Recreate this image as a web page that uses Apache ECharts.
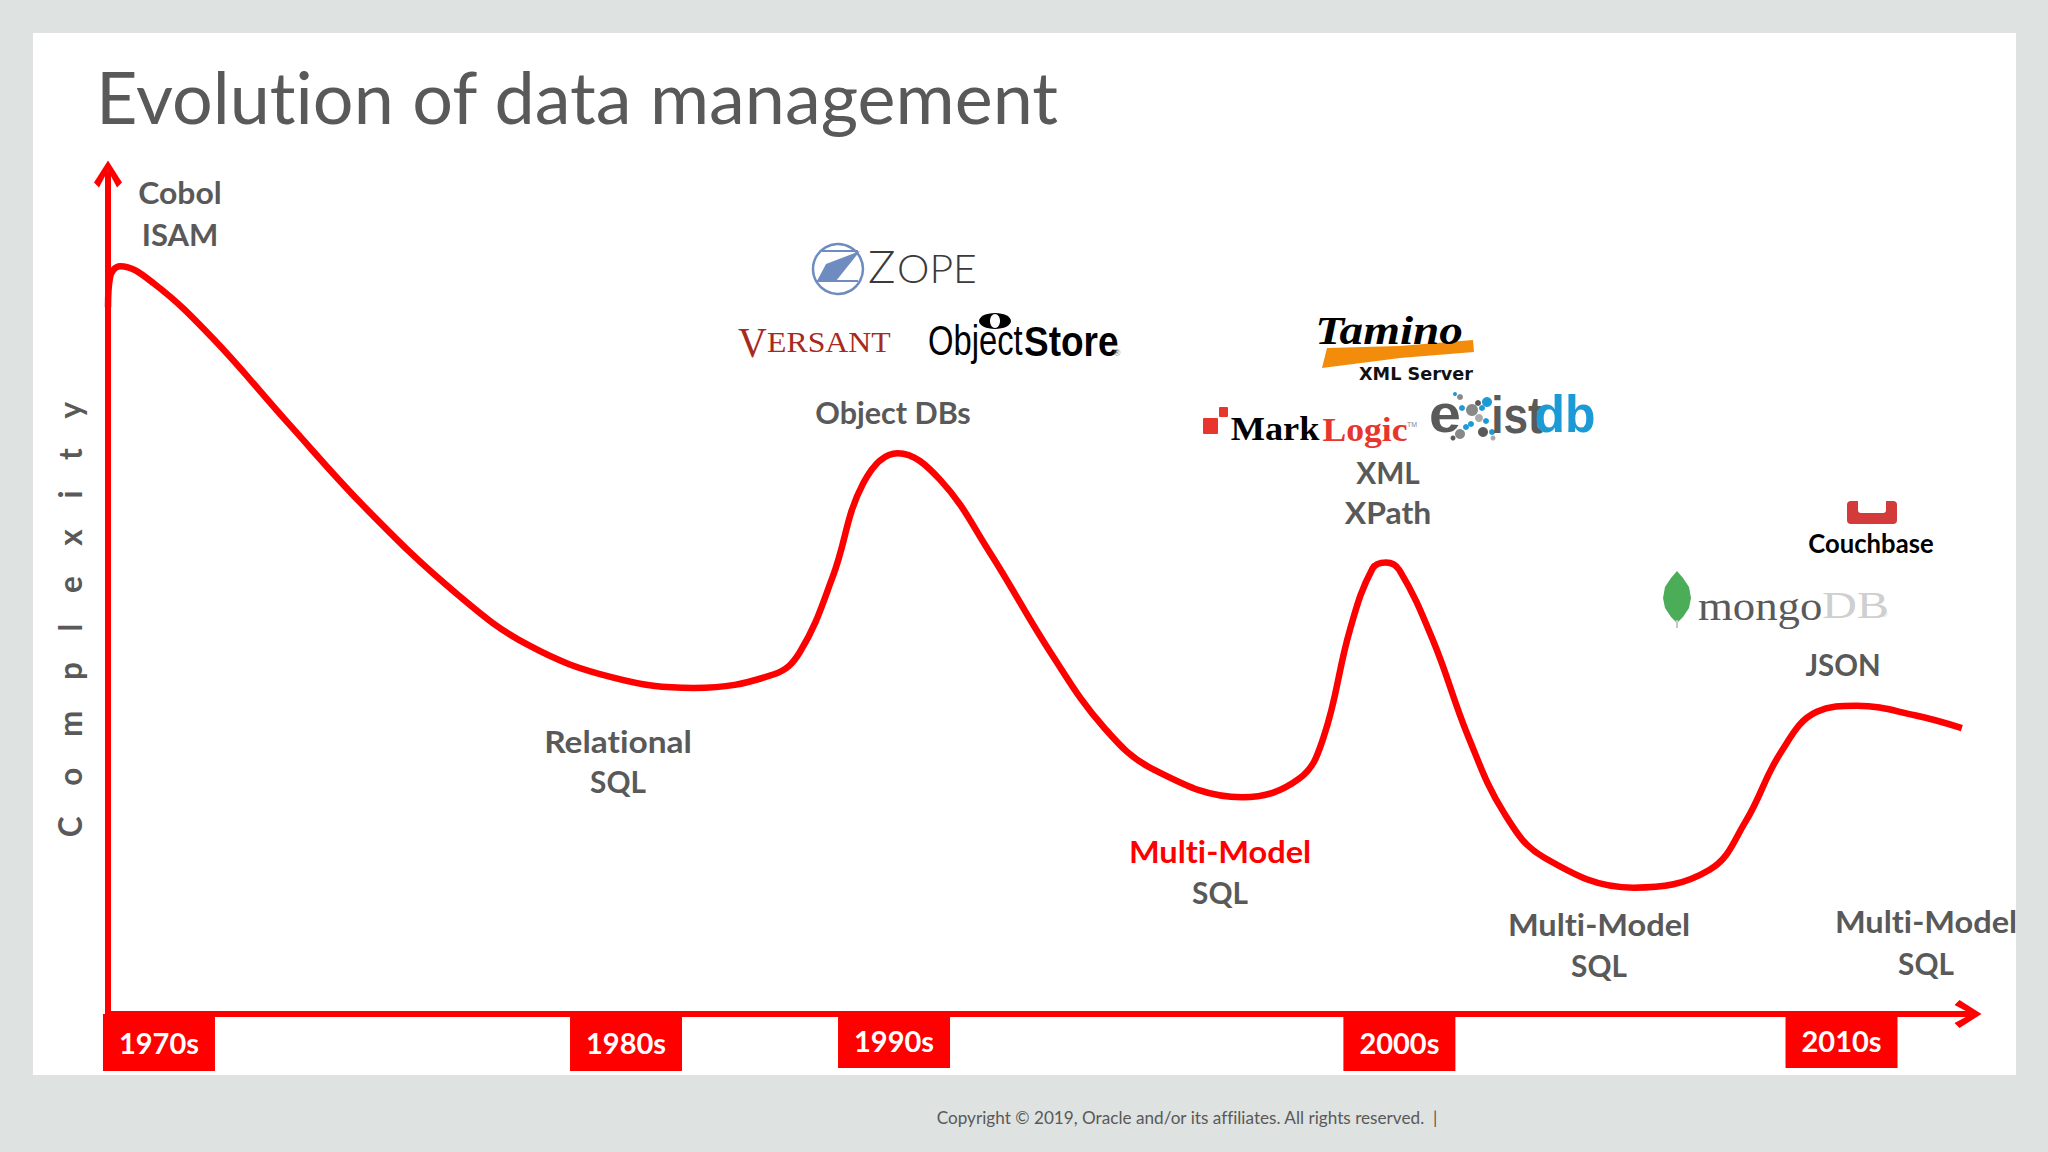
<!DOCTYPE html>
<html>
<head>
<meta charset="utf-8">
<style>
html,body{margin:0;height:100%;background:#dee2e1}
#chart{width:2048px;height:1152px}
#chart text{font-variant-ligatures:none !important}
</style>
<script src="https://cdn.jsdelivr.net/npm/echarts@6/dist/echarts.min.js"></script>
</head>
<body>
<div id="chart"></div>
<script>
// curve: position along the timeline vs complexity
const curveX = [0, 1.1, 6.5, 24.5, 55.7, 96.5, 139.7, 187.6, 226.1, 271.7, 314.9, 358.1, 372, 389.6, 406.1, 424.6, 447.3, 474, 506.9, 535.7, 562.5, 609.8, 640.6, 653.5, 667.7, 679.9, 687.1, 694.3, 712.3, 731.5, 750.7, 772.3, 820.3, 861.1, 880.3, 899.5, 918.7, 940.3, 971.4, 996.7];
const curveY = [82.8, 86.3, 87.6, 85.6, 79.3, 69.3, 59, 49.2, 43.2, 39.4, 38.2, 39.8, 42.4, 51.2, 62.2, 65.7, 62.6, 54.1, 42.3, 33.5, 28.6, 25.4, 27.6, 32.4, 45, 52.2, 52.9, 52, 43.8, 32.4, 23.5, 18.3, 14.8, 16.9, 22.5, 30.7, 35.4, 36.1, 35, 33.5];
const decadeTicks = [27.4, 278.5, 422.6, 694.3, 932];
const decadeLabels = ['1970s', '1980s', '1990s', '2000s', '2010s'];

const RED = '#ff0000', GREY = '#595959', EXIST_BLUE = '#1c9ad6';
const CHEVRON = 'path://M14 0L28 22L23 27L14 10L5 27L0 22Z';
const BOLD = f => `bold ${f}px Lato`;

function txt(x, y, text, font, fill, extra, align) {
  return Object.assign({
    type: 'text', x, y: y - 1.5, z: 5,
    style: { text, font, fill, align: align || 'center', verticalAlign: 'middle' }
  }, extra || {});
}
function dot(cx, cy, r, fill) {
  return { type: 'circle', z: 5, shape: { cx, cy, r }, style: { fill } };
}
function poly(points, fill) {
  return { type: 'polygon', z: 5, shape: { points }, style: { fill } };
}
function box(x, y, width, height, fill, r) {
  return { type: 'rect', z: 5, shape: { x, y, width, height, r: r || 0 }, style: { fill } };
}
function note(x, y, text, sx, fill) {
  return txt(x, y + 1, text, BOLD(31), fill || GREY, { scaleX: sx });
}

const graphics = [
  { type: 'rect', z: -1, shape: { x: 33, y: 33, width: 1983, height: 1042 }, style: { fill: '#ffffff' } },
  txt(96, 97, 'Evolution of data management', '72px Lato', GREY, { scaleX: 0.999 }, 'left'),
  txt(69, 621, 'C    o    m    p    l    e    x    i    t    y', BOLD(33), GREY, { rotation: Math.PI / 2, scaleX: 0.955 }),

  note(180, 193, 'Cobol', 1.03), note(180, 234, 'ISAM', 1),
  note(618, 741, 'Relational', 1.08), note(618, 781, 'SQL', 0.96),
  note(893, 413, 'Object DBs', 0.985),
  note(1220, 852, 'Multi-Model', 1.05, RED), note(1220, 892, 'SQL', 0.96),
  note(1388, 472, 'XML', 0.96), note(1388, 513, 'XPath', 1.03),
  note(1599, 925, 'Multi-Model', 1.05), note(1599, 965, 'SQL', 0.96),
  note(1843, 664, 'JSON', 0.95),
  note(1926, 922, 'Multi-Model', 1.05), note(1926, 963, 'SQL', 0.96),

  // logos redrawn from shapes and text
  { type: 'circle', z: 5, shape: { cx: 838, cy: 269, r: 25 }, style: { fill: '#ffffff', stroke: '#6f8cc0', lineWidth: 2.5 } },
  poly([[817, 281], [826, 264], [860, 251], [836, 281]], '#6f8cc0'),
  poly([[822, 250], [858, 250], [858, 252], [822, 252]], '#6f8cc0'),
  poly([[817, 280], [858, 280], [858, 282], [817, 282]], '#6f8cc0'),
  txt(868, 267, 'Z', '300 46px Lato', '#3a3a3a', {}, 'left'),
  txt(897, 270, 'OPE', '300 39px Lato', '#3a3a3a', { scaleX: 1.05 }, 'left'),
  txt(738, 344, 'V', '42px "Liberation Serif"', '#a62a1e', { scaleX: 0.95 }, 'left'),
  txt(767, 343, 'ERSANT', '30px "Liberation Serif"', '#a62a1e', { scaleX: 1.06 }, 'left'),
  { type: 'ellipse', z: 5, shape: { cx: 995, cy: 321, rx: 16, ry: 8 }, style: { fill: '#000' } },
  { type: 'ellipse', z: 6, shape: { cx: 995, cy: 321, rx: 5, ry: 7 }, style: { fill: '#fff' } },
  txt(928, 342, 'Object', '42px "Liberation Sans"', '#000', { scaleX: 0.78 }, 'left'),
  txt(1024, 343, 'Store', 'bold 42px "Liberation Sans"', '#000', { scaleX: 0.88 }, 'left'),
  txt(1117, 354, '®', '9px "Liberation Sans"', '#777'),

  poly([[1322, 368], [1327, 348], [1400, 346], [1473, 340], [1474, 352], [1400, 358]], '#f28c0a'),
  txt(1389, 332, 'Tamino', 'italic bold 40px "Liberation Serif"', '#000', { z: 6, scaleX: 1.18 }),
  txt(1416, 375, 'XML Server', 'bold 18px "DejaVu Sans"', '#111', { scaleX: 0.98 }),
  box(1203, 418, 15, 16, '#e8352e', 1), box(1219, 407, 9, 10, '#e8352e', 1),
  txt(1275, 431, 'Mark', 'bold 33px "Liberation Serif"', '#000', { scaleX: 1.1 }),
  txt(1365, 431, 'Logic', 'bold 33px "Liberation Serif"', '#e8352e', { scaleX: 1.08 }),
  txt(1412, 426, 'TM', '7px "Liberation Sans"', '#888'),
  txt(1445, 416, 'e', 'bold 52px "Liberation Sans"', '#5a5a5a', { scaleX: 1.1 }),
  dot(1472, 410, 6, '#888'), dot(1479, 418, 4, '#aaa'), dot(1460, 434, 5, '#888'), dot(1483, 432, 5, '#5a5a5a'),
  dot(1487, 402, 5, EXIST_BLUE), dot(1466, 427, 3, EXIST_BLUE), dot(1492, 432, 3, EXIST_BLUE), dot(1453, 438, 2.5, '#5a5a5a'),
  dot(1493, 438, 2.5, '#aaa'), dot(1462, 408, 3, EXIST_BLUE), dot(1455, 394, 2, EXIST_BLUE), dot(1460, 397, 3, '#888'),
  dot(1478, 403, 3, '#5a5a5a'), dot(1482, 408, 3, EXIST_BLUE), dot(1471, 424, 3, EXIST_BLUE), dot(1486, 421, 3, EXIST_BLUE),
  txt(1517, 416, 'ist', 'bold 52px "Liberation Sans"', '#5a5a5a', { scaleX: 0.85 }),
  txt(1565, 416, 'db', 'bold 52px "Liberation Sans"', EXIST_BLUE, { scaleX: 0.96 }),

  box(1847, 501, 50, 23, '#d33a3a', 4), box(1858, 500, 28, 13, '#ffffff', [0, 0, 3, 3]),
  txt(1871, 544, 'Couchbase', BOLD(27), '#000', { scaleX: 0.95 }),
  poly([[1677, 571], [1683, 578], [1689, 587], [1691, 598], [1689, 608], [1683, 617], [1677, 623], [1671, 617], [1665, 608], [1663, 598], [1665, 587], [1671, 578]], '#4cad59'),
  box(1676, 620, 2, 8, '#c8c8c8'),
  txt(1698, 608, 'mongo', '40px "Liberation Serif"', '#5a5a5a', { scaleX: 1.12 }, 'left'),
  txt(1822, 606, 'DB', '38px "Liberation Serif"', '#cfcfcf', { scaleX: 1.27 }, 'left'),
  txt(1884, 615, '®', '9px "Liberation Sans"', '#cfcfcf'),

  txt(1187, 1119, 'Copyright © 2019, Oracle and/or its affiliates. All rights reserved.  |', '17px Lato', GREY, { scaleX: 1.01 })
];

const decadeBox = { backgroundColor: RED, color: '#fff', width: 112, align: 'center', fontFamily: 'Lato', fontWeight: 'bold', fontSize: 29 };

const chart = echarts.init(document.getElementById('chart'), null, { renderer: 'svg' });
chart.setOption({
  backgroundColor: '#dee2e1',
  animation: false,
  grid: { left: 108, top: 174, width: 1860, height: 840 },
  xAxis: {
    type: 'value', min: 0, max: 1000,
    splitLine: { show: false },
    axisTick: { show: false },
    axisLine: { lineStyle: { color: RED, width: 6 }, symbol: ['none', CHEVRON], symbolSize: [28, 28] },
    axisLabel: {
      customValues: decadeTicks,
      margin: 0,
      formatter: v => {
        const i = decadeTicks.indexOf(v);
        return `{${i === 2 || i === 4 ? 'short' : 'tall'}|${decadeLabels[i]}}`;
      },
      rich: {
        tall: Object.assign({ height: 57, lineHeight: 57 }, decadeBox),
        short: Object.assign({ height: 55, lineHeight: 53 }, decadeBox)
      }
    }
  },
  yAxis: {
    type: 'value', min: 0, max: 98.4,
    splitLine: { show: false },
    axisTick: { show: false },
    axisLabel: { show: false },
    axisLine: { lineStyle: { color: RED, width: 6 }, symbol: ['none', CHEVRON], symbolSize: [28, 28] }
  },
  series: [{
    type: 'line',
    data: curveX.map((x, i) => [x, curveY[i]]),
    smooth: 0.4,
    showSymbol: false,
    z: 3,
    lineStyle: { color: RED, width: 6.5 }
  }],
  graphic: graphics
});
window.addEventListener('resize', () => chart.resize());
</script>
</body>
</html>
